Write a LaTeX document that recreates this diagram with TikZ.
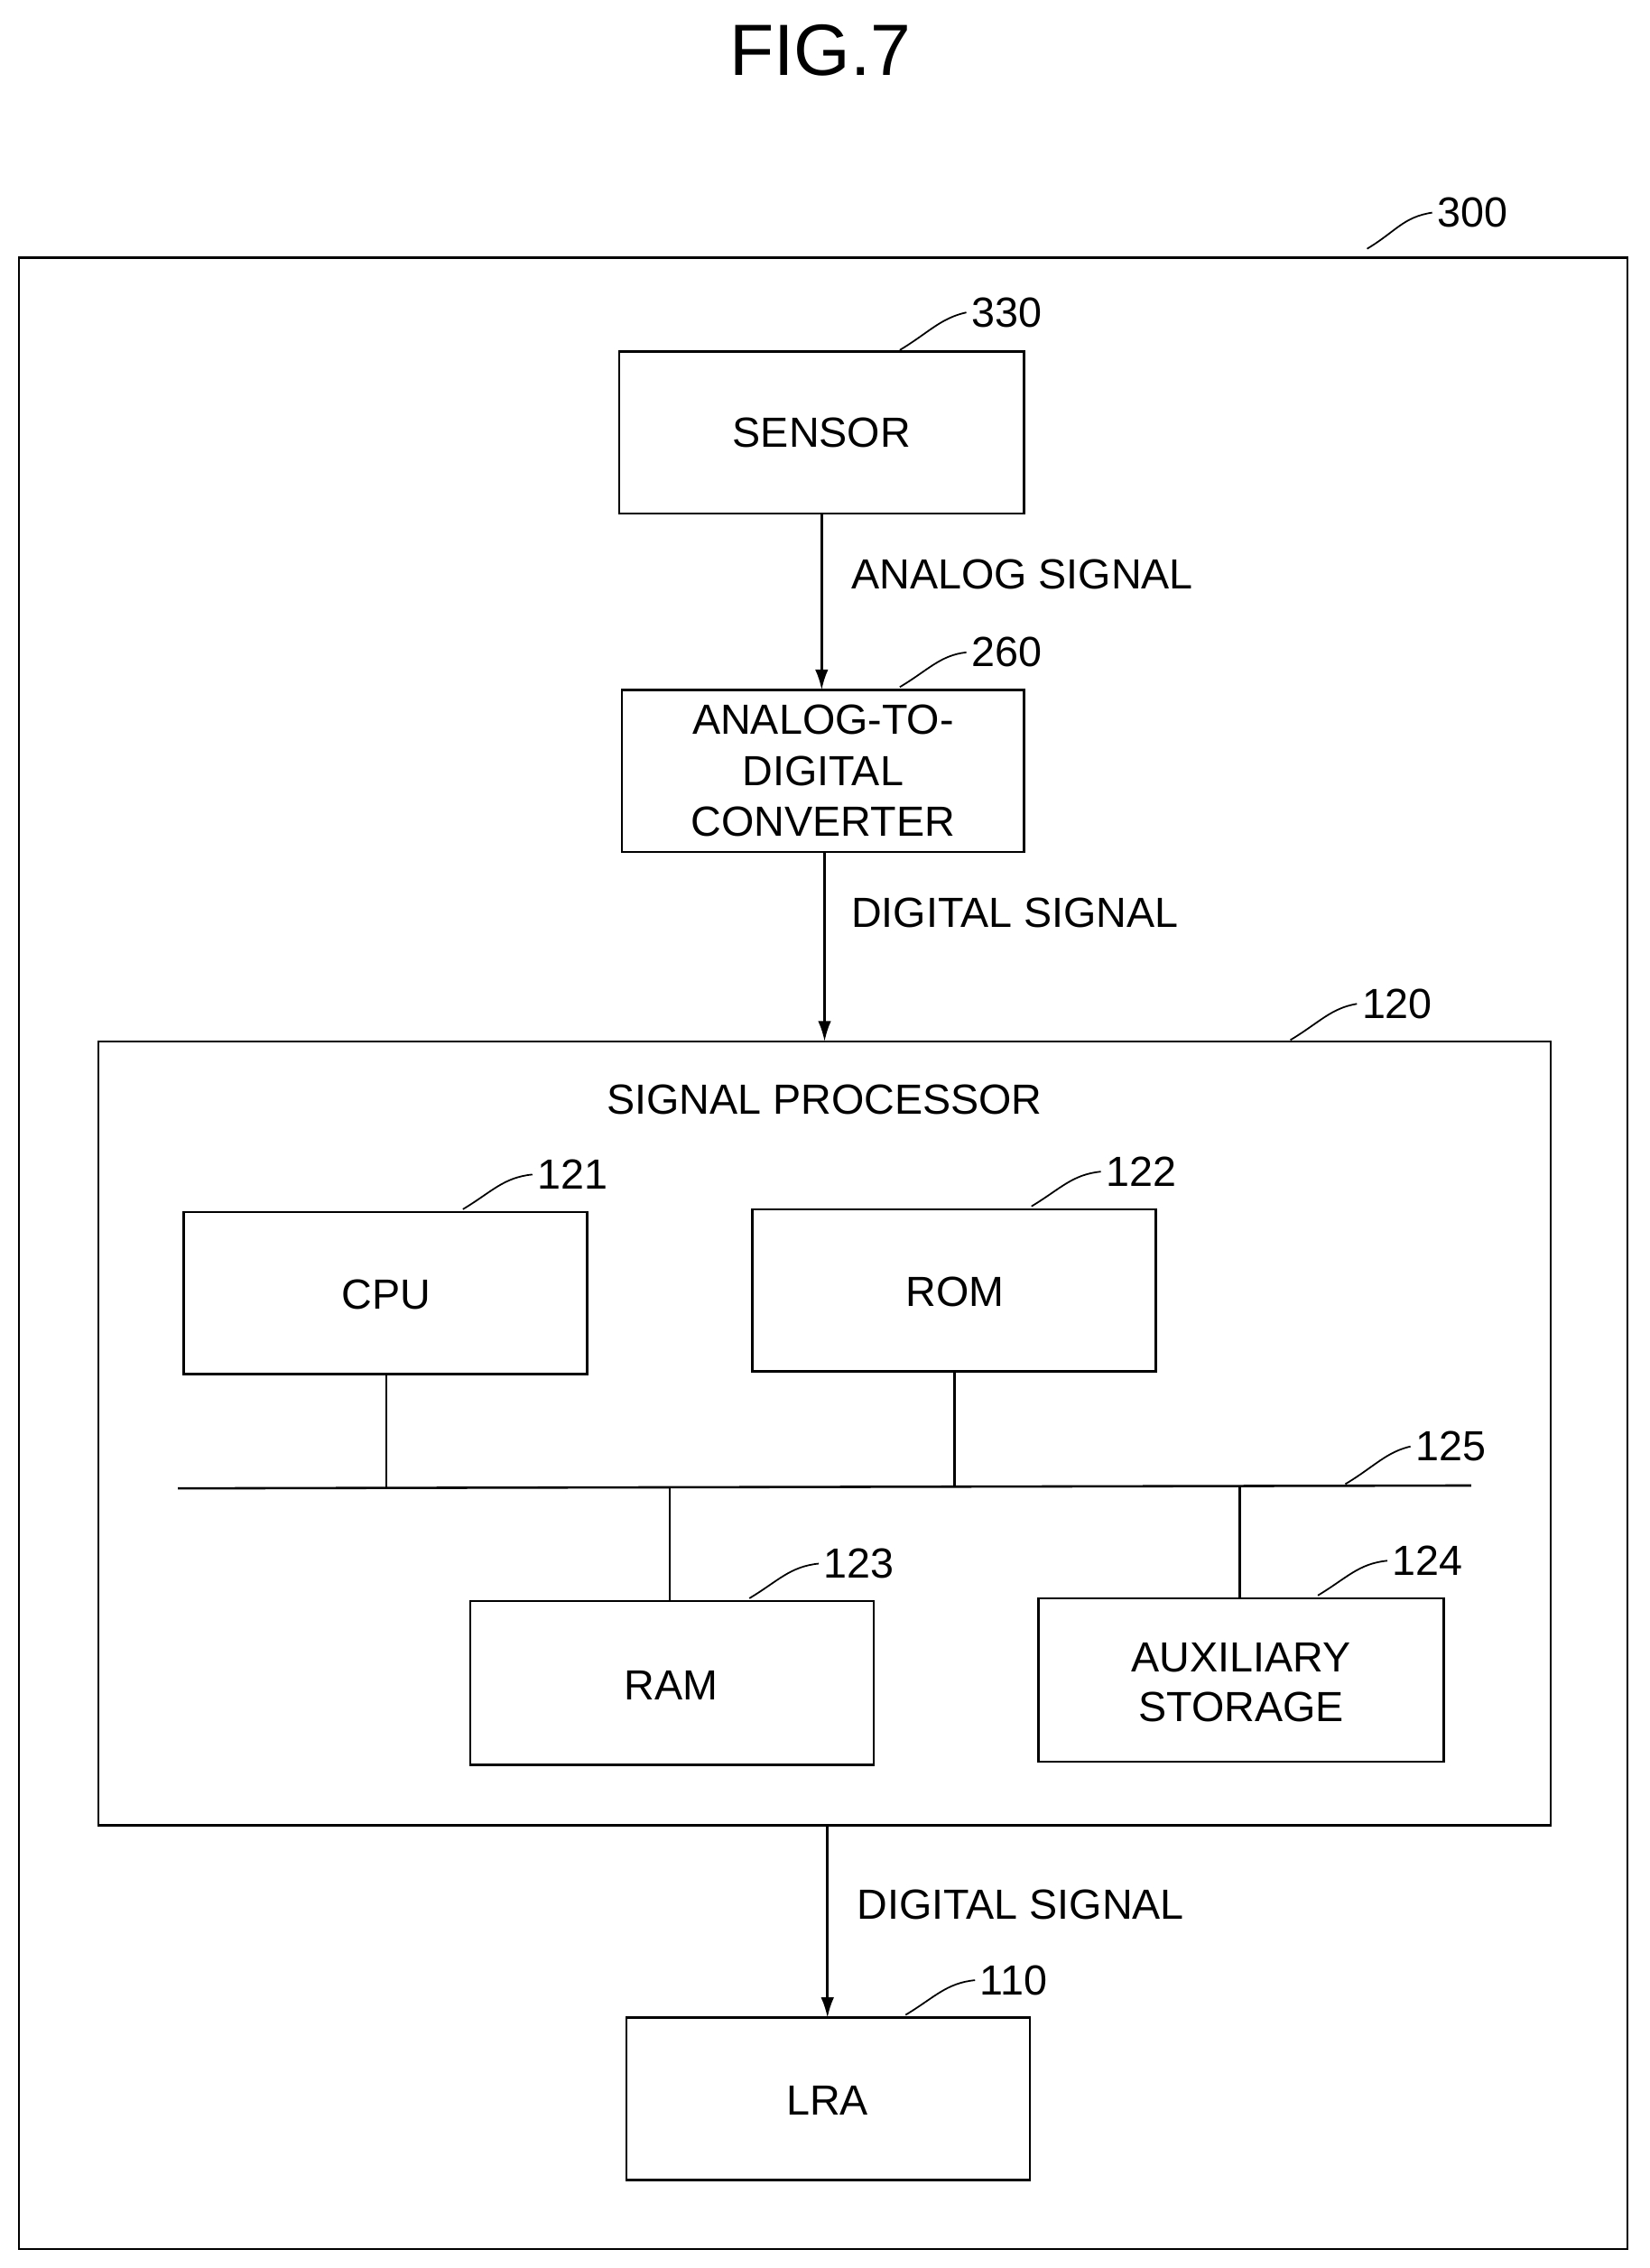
\documentclass[tikz,border=0pt]{standalone}
\usepackage{fontspec}
\setmainfont{Liberation Sans}
\usetikzlibrary{arrows.meta}
\begin{document}
\begin{tikzpicture}[x=0.35mm,y=-0.35mm,
  box/.style={draw,line width=1.6pt},
  txt/.style={font=\fontsize{29}{34}\selectfont,align=center},
  conn/.style={line width=1.6pt},
  arr/.style={conn,-{Latex[length=14pt,width=9pt]}},
  lead/.style={line width=1.1pt}]
\useasboundingbox (0,0) rectangle (1140,1568);
\node[font=\fontsize{50}{56}\selectfont] (title) at (567,35) {FIG.7};
% outer
\draw[box] (13,178) rectangle (1125,1555);
\node[txt,anchor=west] (l300) at (990,147) {300};
\coordinate (c300) at (945,172);
\draw[lead] (c300) .. controls (965,160) and (970,150) .. (l300.west);
% sensor
\draw[box] (428,243) rectangle (708,355);
\node[txt] (sensor) at (568,299) {SENSOR};
\node[txt,anchor=west] (l330) at (668,216) {330};
\coordinate (c330) at (622,242);
\draw[lead] (c330) .. controls (642,230) and (650,220) .. (l330.west);
% adc
\draw[box] (430,477) rectangle (708,589);
\node[txt,font=\fontsize{29}{35}\selectfont] (adc) at (569,533) {ANALOG-TO-\\DIGITAL\\CONVERTER};
\node[txt,anchor=west] (l260) at (668,451) {260};
\coordinate (c260) at (622,475);
\draw[lead] (c260) .. controls (642,463) and (650,453) .. (l260.west);
\coordinate (sb) at (568,355); \coordinate (at) at (568,477);
\draw[arr] (sb) -- (at);
\node[txt,anchor=west] (an) at (585,397) {ANALOG SIGNAL};
\coordinate (ab) at (570,589); \coordinate (pt) at (570,720);
\draw[arr] (ab) -- (pt);
\node[txt,anchor=west] (dg1) at (585,631) {DIGITAL SIGNAL};
% processor
\draw[box] (68,720) rectangle (1072,1262);
\node[txt] (sp) at (570,760) {SIGNAL PROCESSOR};
\node[txt,anchor=west] (l120) at (938,694) {120};
\coordinate (c120) at (892,719);
\draw[lead] (c120) .. controls (912,707) and (920,697) .. (l120.west);
% cpu
\draw[box] (127,838) rectangle (406,950);
\node[txt] (cpu) at (267,895) {CPU};
\node[txt,anchor=west] (l121) at (368,812) {121};
\coordinate (c121) at (320,836);
\draw[lead] (c121) .. controls (340,824) and (348,814) .. (l121.west);
% rom
\draw[box] (520,836) rectangle (799,948);
\node[txt] (rom) at (660,893) {ROM};
\node[txt,anchor=west] (l122) at (761,810) {122};
\coordinate (c122) at (713,834);
\draw[lead] (c122) .. controls (733,822) and (741,812) .. (l122.west);
% bus
\coordinate (bl) at (123,1029); \coordinate (br) at (1017,1027);
\draw[conn] (bl) -- (br);
\node[txt,anchor=west] (l125) at (975,1000) {125};
\coordinate (c125) at (930,1026);
\draw[lead] (c125) .. controls (950,1014) and (958,1004) .. (l125.west);
\draw[conn] (267,950) -- (267,1029);
\draw[conn] (660,948) -- (660,1028);
\draw[conn] (463,1029) -- (463,1107);
\draw[conn] (857,1028) -- (857,1105);
% ram
\draw[box] (325,1107) rectangle (604,1220);
\node[txt] (ram) at (464,1165) {RAM};
\node[txt,anchor=west] (l123) at (566,1081) {123};
\coordinate (c123) at (518,1105);
\draw[lead] (c123) .. controls (538,1093) and (546,1083) .. (l123.west);
% aux
\draw[box] (718,1105) rectangle (998,1218);
\node[txt,font=\fontsize{29}{34}\selectfont] (aux) at (858,1163) {AUXILIARY\\STORAGE};
\node[txt,anchor=west] (l124) at (959,1079) {124};
\coordinate (c124) at (911,1103);
\draw[lead] (c124) .. controls (931,1091) and (939,1081) .. (l124.west);
% lra
\coordinate (pb) at (572,1262); \coordinate (lt) at (572,1395);
\draw[arr] (pb) -- (lt);
\node[txt,anchor=west] (dg2) at (589,1317) {DIGITAL SIGNAL};
\draw[box] (433,1395) rectangle (712,1507);
\node[txt] (lra) at (572,1452) {LRA};
\node[txt,anchor=west] (l110) at (674,1369) {110};
\coordinate (c110) at (626,1393);
\draw[lead] (c110) .. controls (646,1381) and (654,1371) .. (l110.west);
\end{tikzpicture}
\end{document}
